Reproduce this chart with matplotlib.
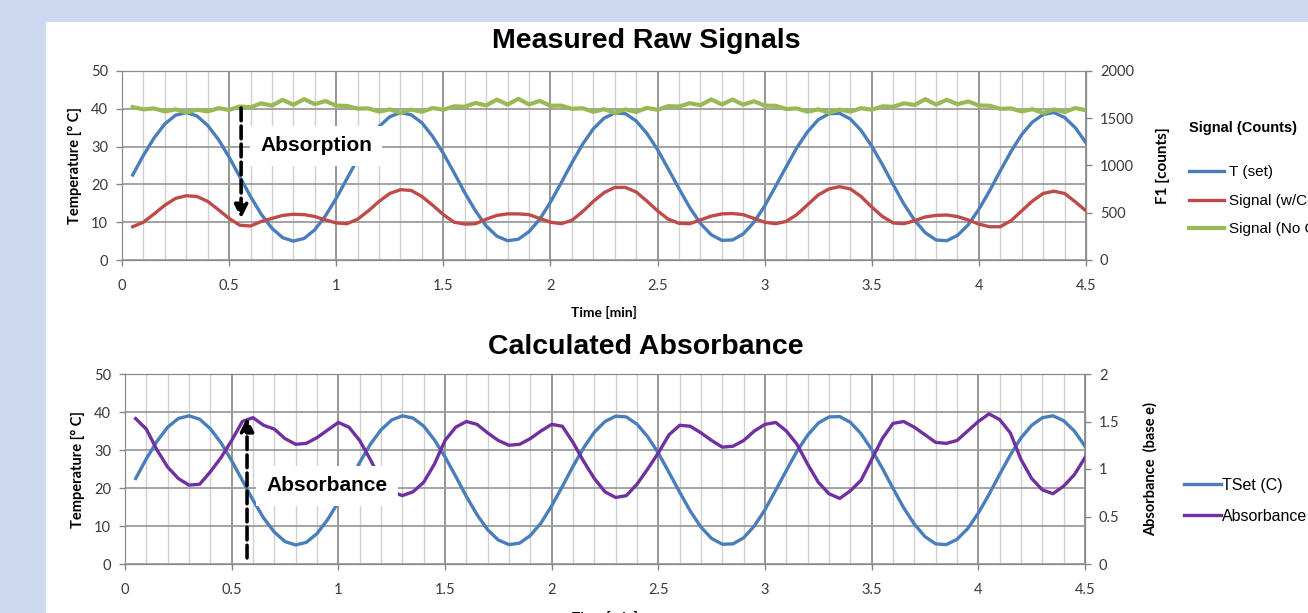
import numpy as np
import matplotlib.pyplot as plt
from matplotlib.patches import Rectangle
from matplotlib.ticker import FormatStrFormatter

# sampling grid, minutes
time_min = np.round(np.arange(1, 91) * 0.05, 2)

# set temperature (deg C)
t_set = [22.5, 27.7, 32.3, 36.0, 38.3, 39.0, 38.1, 35.6, 31.9, 27.2,
         22.0, 16.8, 12.1, 8.4, 5.9, 5.0, 5.7, 8.0, 11.7, 16.3,
         21.5, 26.7, 31.5, 35.3, 37.9, 39.0, 38.4, 36.3, 32.7, 28.2,
         23.1, 17.8, 13.0, 9.0, 6.3, 5.1, 5.5, 7.5, 10.8, 15.3,
         20.4, 25.7, 30.6, 34.7, 37.5, 38.9, 38.7, 36.8, 33.5, 29.2,
         24.1, 18.9, 13.9, 9.7, 6.7, 5.2, 5.3, 6.9, 10.0, 14.3,
         19.4, 24.6, 29.7, 33.9, 37.1, 38.7, 38.8, 37.3, 34.3, 30.1,
         25.2, 19.9, 14.8, 10.5, 7.2, 5.3, 5.1, 6.5, 9.3, 13.4,
         18.3, 23.6, 28.7, 33.2, 36.5, 38.5, 39.0, 37.7, 35.0, 31.0]

# F1 counts with cell
sig_cell = [352, 400, 488, 580, 652, 680, 672, 620, 532, 440,
            368, 360, 408, 440, 472, 484, 480, 460, 424, 392,
            384, 432, 520, 620, 704, 744, 736, 672, 580, 480,
            400, 380, 384, 432, 472, 488, 488, 480, 440, 400,
            384, 420, 512, 620, 712, 768, 768, 720, 624, 520,
            432, 388, 384, 424, 464, 488, 492, 480, 440, 400,
            384, 408, 480, 584, 688, 752, 776, 752, 672, 560,
            460, 392, 384, 416, 456, 472, 476, 460, 424, 380,
            352, 352, 416, 520, 624, 704, 728, 704, 616, 520]

# F1 counts without cell
sig_nocell = [1618, 1594, 1604, 1572, 1594, 1560, 1590, 1572, 1606, 1588,
              1624, 1616, 1658, 1634, 1695, 1642, 1702, 1650, 1682, 1634,
              1630, 1602, 1604, 1570, 1594, 1558, 1592, 1568, 1608, 1590,
              1626, 1622, 1662, 1636, 1698, 1644, 1706, 1646, 1684, 1632,
              1634, 1600, 1606, 1568, 1596, 1558, 1594, 1566, 1610, 1590,
              1628, 1624, 1660, 1638, 1700, 1646, 1698, 1644, 1680, 1634,
              1632, 1598, 1604, 1570, 1594, 1558, 1592, 1570, 1606, 1590,
              1626, 1622, 1658, 1640, 1702, 1644, 1696, 1648, 1678, 1636,
              1632, 1600, 1604, 1572, 1596, 1556, 1594, 1566, 1608, 1584]

# absorbance (base e)
absorb = [1.53, 1.42, 1.20, 1.02, 0.90, 0.83, 0.84, 0.97, 1.12, 1.30,
          1.50, 1.54, 1.46, 1.42, 1.32, 1.26, 1.27, 1.33, 1.41, 1.49,
          1.44, 1.30, 1.10, 0.88, 0.76, 0.72, 0.76, 0.86, 1.05, 1.30,
          1.44, 1.50, 1.47, 1.38, 1.30, 1.25, 1.26, 1.32, 1.40, 1.47,
          1.45, 1.28, 1.08, 0.90, 0.76, 0.70, 0.72, 0.84, 1.00, 1.17,
          1.36, 1.46, 1.45, 1.38, 1.30, 1.23, 1.24, 1.30, 1.40, 1.47,
          1.49, 1.40, 1.26, 1.05, 0.86, 0.74, 0.69, 0.77, 0.88, 1.10,
          1.32, 1.48, 1.50, 1.44, 1.36, 1.28, 1.27, 1.30, 1.40, 1.50,
          1.58, 1.52, 1.38, 1.10, 0.90, 0.78, 0.74, 0.82, 0.94, 1.12]

x_ticks = [0, 0.5, 1, 1.5, 2, 2.5, 3, 3.5, 4, 4.5]

blue = '#4a7ebb'
red = '#be4b48'
green = '#98b954'
purple = '#7030a0'
tick_font = 'Lato'
arial = 'Liberation Sans'

W, H = 1308, 613
fig = plt.figure(figsize=(W / 100, H / 100), dpi=100)
fig.patch.set_facecolor('#cdd8f1')
fig.add_artist(Rectangle((46 / W, 0), 1, 1 - 22 / H, transform=fig.transFigure,
                         facecolor='white', edgecolor='none', zorder=-1))


def style(ax, ax2, rticks):
    ax.set_xlim(0, 4.5)
    ax.set_ylim(0, 50)
    ax.set_xticks(x_ticks)
    ax.set_xticks(np.round(np.arange(0, 4.51, 0.1), 1), minor=True)
    ax.set_yticks([0, 10, 20, 30, 40, 50])
    ax.xaxis.set_major_formatter(FormatStrFormatter('%g'))
    ax.grid(which='minor', axis='x', color='#d0d0d0', lw=1.0)
    ax.grid(which='major', axis='x', color='#8e8e8e', lw=1.3)
    ax.grid(which='major', axis='y', color='#9c9c9c', lw=1.3)
    ax.set_axisbelow(True)
    ax.tick_params(which='minor', length=0)
    for a in (ax, ax2):
        a.tick_params(which='major', length=4, width=1, color='#868686',
                      labelsize=10.5, labelcolor='#3a3a3a', pad=6)
        for s in a.spines.values():
            s.set_color('#8a8a8a')
    ax.tick_params(axis='x', pad=10)
    ax2.set_yticks(rticks)
    ax2.yaxis.set_major_formatter(FormatStrFormatter('%g'))
    for a in (ax, ax2):
        for lab in a.get_xticklabels() + a.get_yticklabels():
            lab.set_fontfamily(tick_font)
    ax.set_xlabel('Time [min]', fontsize=10, fontweight='bold', family=tick_font)
    ax.xaxis.set_label_coords(0.5, -0.245)
    ax.set_ylabel('Temperature [° C]', fontsize=10.5, fontweight='bold', family=tick_font)
    ax.yaxis.set_label_coords(-0.042, 0.5)


# ---- top: raw signals
ax1 = fig.add_axes([122 / W, 1 - 260 / H, 964 / W, 189 / H])
ax1b = ax1.twinx()
ax1b.set_ylim(0, 2000)
l_t, = ax1.plot(time_min, t_set, color=blue, lw=2.4)
l_c, = ax1b.plot(time_min, sig_cell, color=red, lw=2.4)
l_n, = ax1b.plot(time_min, sig_nocell, color=green, lw=3.0)
style(ax1, ax1b, [0, 500, 1000, 1500, 2000])
ax1b.set_ylabel('F1 [counts]', fontsize=11, fontweight='bold', family=tick_font)
ax1b.yaxis.set_label_coords(1.072, 0.5)

ax1b.annotate('', xy=(0.556, 440), xytext=(0.556, 1608),
              arrowprops=dict(arrowstyle='-|>', color='black', lw=2.6,
                              linestyle=(0, (3.5, 1.5)), mutation_scale=20,
                              shrinkA=0, shrinkB=0))
ax1b.text(0.906, 1208, 'Absorption', fontsize=15, fontweight='bold', family=arial,
          ha='center', va='center', zorder=5,
          bbox=dict(boxstyle='square,pad=0.5', facecolor='white', edgecolor='none'))

fig.legend(handles=[l_t, l_c, l_n],
           labels=['T (set)', 'Signal (w/Cell)', 'Signal (No Cell)'],
           title='Signal (Counts)\n', loc='upper left',
           bbox_to_anchor=(1181 / W, 1 - 113 / H), frameon=False, borderpad=0,
           handlelength=2.3, handletextpad=0.35, labelspacing=0.95,
           prop={'family': arial, 'size': 11}, alignment='left',
           title_fontproperties={'family': arial, 'size': 10.5, 'weight': 'bold'})

fig.text(646 / W, 1 - 41 / H, 'Measured Raw Signals', ha='center', va='center',
         fontsize=20.5, fontweight='bold', family=arial)

# ---- bottom: absorbance
ax2 = fig.add_axes([125 / W, 1 - 564 / H, 960 / W, 190 / H])
ax2b = ax2.twinx()
ax2b.set_ylim(0, 2)
l_t2, = ax2.plot(time_min, t_set, color=blue, lw=2.4)
l_a, = ax2b.plot(time_min, absorb, color=purple, lw=2.4)
style(ax2, ax2b, [0, 0.5, 1, 1.5, 2])
ax2b.set_ylabel('Absorbance  (base e)', fontsize=10.5, fontweight='bold', family=tick_font)
ax2b.yaxis.set_label_coords(1.061, 0.5)

ax2b.annotate('', xy=(0.572, 1.54), xytext=(0.572, 0.064),
              arrowprops=dict(arrowstyle='-|>', color='black', lw=2.6,
                              linestyle=(0, (3.5, 1.5)), mutation_scale=20,
                              shrinkA=0, shrinkB=0))
ax2b.text(0.947, 0.824, 'Absorbance', fontsize=15, fontweight='bold', family=arial,
          ha='center', va='center', zorder=5,
          bbox=dict(boxstyle='square,pad=0.5', facecolor='white', edgecolor='none'))

fig.legend(handles=[l_t2, l_a], labels=['TSet (C)', 'Absorbance'],
           loc='upper left', bbox_to_anchor=(1176 / W, 1 - 470 / H),
           frameon=False, borderpad=0, handlelength=2.3, handletextpad=0.05,
           labelspacing=1.0, prop={'family': arial, 'size': 11.5})

fig.text(646 / W, 1 - 347 / H, 'Calculated Absorbance', ha='center', va='center',
         fontsize=20.5, fontweight='bold', family=arial)

fig.savefig('out.png', dpi=100, facecolor=fig.get_facecolor())
